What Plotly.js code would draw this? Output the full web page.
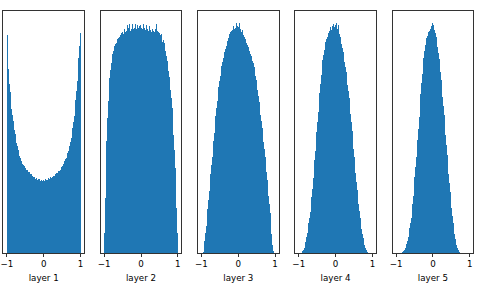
<!DOCTYPE html>
<html>
<head>
<meta charset="utf-8">
<script src="https://cdn.plot.ly/plotly-3.0.1.min.js"></script>
<style>html,body{margin:0;padding:0;background:#fff;}#chart{width:491px;height:287px;}</style>
</head>
<body>
<div id="chart"></div>
<script>
// Histogram binning: 100 equal bins over [-1, 1]
const binRange = [-1, 1];
const binCount = 100;
const binWidth = (binRange[1] - binRange[0]) / binCount;
const binCenters = [];
for (let k = 0; k < binCount; k++) binCenters.push(+(binRange[0] + binWidth * (k + 0.5)).toFixed(3));

// Histogram heights (relative counts), left to right
const layer1 = [218,200,184,169,161,153,144,138,132,126,
  123,119,114,110,107,103,100,97,95,92,
  91,89,88,87,85,85,83,83,82,81,
  81,80,79,79,77,77,76,76,74,76,
  75,73,74,73,74,72,73,73,72,73,
  73,72,74,73,74,73,75,74,75,76,
  75,76,76,77,77,78,79,80,80,81,
  82,82,83,85,86,87,89,90,92,94,
  95,97,100,102,105,107,111,115,120,125,
  131,137,145,153,162,172,182,195,207,220];
const layer2 = [20,55,85,112,135,152,165,175,183,190,
  195,199,202,205,207,209,210,212,214,215,
  216,217,218,220,221,222,219,224,221,226,
  222,228,223,225,229,222,226,224,229,224,
  227,225,229,224,226,228,225,227,224,228,
  225,227,224,229,225,226,223,228,224,226,
  222,227,223,225,221,224,222,226,221,224,
  220,229,222,221,219,220,218,219,214,211,
  213,210,206,202,197,192,187,182,176,170,
  163,155,145,132,118,103,85,66,45,20];
const layer3 = [0,0,1,6,12,20,27,35,44,53,
  62,71,79,88,96,104,112,120,128,137,
  145,152,159,166,172,177,182,187,191,195,
  198,201,204,207,210,212,215,217,219,221,
  222,224,223,227,224,229,225,230,227,229,
  226,230,224,227,221,223,219,218,216,214,
  212,210,208,206,203,202,199,197,195,192,
  190,186,182,177,173,168,163,157,151,145,
  138,132,125,118,111,104,96,89,81,73,
  65,57,49,40,30,19,8,2,0,0];
const layer4 = [0,0,0,0,1,2,3,5,8,11,
  16,20,25,30,35,41,48,56,64,75,
  84,93,102,112,121,131,141,151,160,169,
  178,186,193,198,203,207,211,214,216,218,
  220,222,223,226,223,227,224,229,226,228,
  225,230,224,228,221,219,216,213,209,205,
  201,196,191,186,181,175,168,162,155,148,
  139,131,122,113,104,96,88,80,71,63,
  56,49,42,35,29,24,19,15,11,8,
  5,3,2,1,0,0,0,0,0,0];
const layer5 = [0,0,0,0,0,0,0,0,1,1,
  2,3,5,7,9,12,16,20,25,30,
  35,41,49,57,66,76,86,96,104,113,
  124,136,148,159,170,179,188,195,202,208,
  212,215,217,219,221,222,224,226,227,230,
  228,226,223,220,216,212,206,200,194,188,
  181,173,165,156,147,138,128,118,108,98,
  88,79,70,61,53,45,37,30,24,19,
  14,11,8,5,3,2,1,0,0,0,
  0,0,0,0,0,0,0,0,0,0];

const series = [layer1, layer2, layer3, layer4, layer5];
const layerLabels = ["layer 1","layer 2","layer 3","layer 4","layer 5"];
const tickVals = [-1, 0, 1];

const W = 491, H = 287;
const panelLeft = 3.2, panelStep = 97.3, panelWidth = 81;
const plotTop = 11, plotBottom = 253;
const fontSpec = {family: 'DejaVu Sans', size: 8.7, color: '#000'};

const traces = [];
const layout = {
  width: W, height: H,
  margin: {l:0, r:0, t:0, b:0},
  paper_bgcolor: '#fff', plot_bgcolor: '#fff',
  showlegend: false,
  bargap: 0,
  font: fontSpec
};

series.forEach((vals, i) => {
  const n = i === 0 ? '' : String(i + 1);
  traces.push({
    type: 'bar',
    x: binCenters,
    y: vals,
    width: binWidth,
    xaxis: 'x' + n,
    yaxis: 'y' + n,
    marker: {color: '#1f77b4', line: {width: 0}},
    hoverinfo: 'x+y'
  });
  const l = panelLeft + panelStep * i;
  layout['xaxis' + n] = {
    domain: [l / W, (l + panelWidth) / W],
    anchor: 'y' + n,
    range: [-1.1, 1.1],
    tickmode: 'array',
    tickvals: tickVals,
    ticks: 'outside', ticklen: 3, tickwidth: 0.8, tickcolor: '#000',
    showline: true, mirror: true, linecolor: '#000', linewidth: 0.8,
    showgrid: false, zeroline: false,
    tickfont: fontSpec,
    title: {text: layerLabels[i], font: fontSpec, standoff: 6},
    automargin: false
  };
  layout['yaxis' + n] = {
    domain: [1 - plotBottom / H, 1 - plotTop / H],
    anchor: 'x' + n,
    range: [0, 242],
    showticklabels: false, ticks: '',
    showline: true, mirror: true, linecolor: '#000', linewidth: 0.8,
    showgrid: false, zeroline: false,
    automargin: false
  };
});

Plotly.newPlot('chart', traces, layout, {staticPlot: true, displayModeBar: false});
</script>
</body>
</html>
